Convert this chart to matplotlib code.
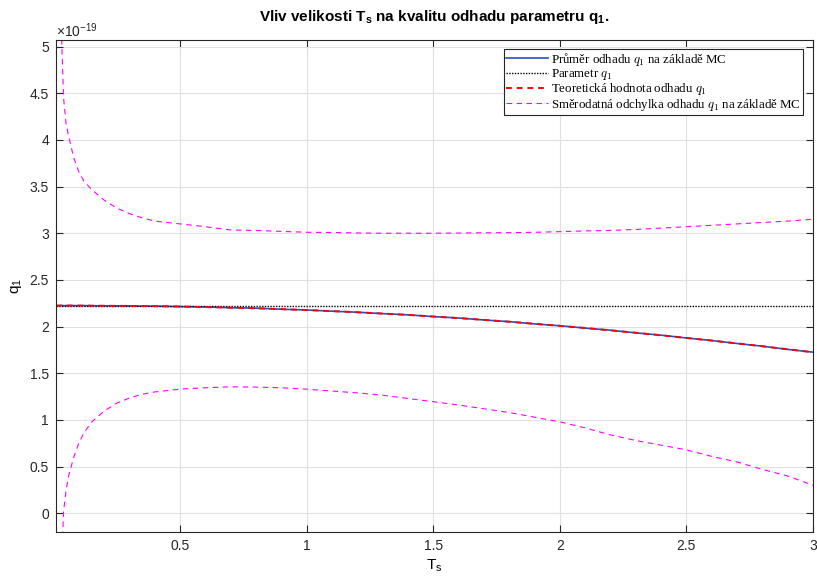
import numpy as np
import matplotlib
matplotlib.use('Agg')
import matplotlib.pyplot as plt
from matplotlib.font_manager import FontProperties

plt.rcParams['font.family'] = ['Liberation Sans', 'DejaVu Sans']
plt.rcParams['mathtext.fontset'] = 'custom'
plt.rcParams['mathtext.rm'] = 'Liberation Sans'
plt.rcParams['mathtext.it'] = 'Liberation Sans'
plt.rcParams['mathtext.bf'] = 'Liberation Sans:bold'

# data (values in units of 1e-19)
Ts = [0.01, 0.02, 0.03, 0.04, 0.05, 0.06, 0.08, 0.1, 0.12, 0.15, 0.2, 0.25, 0.3, 0.35,
      0.4, 0.5, 0.6, 0.7, 0.8, 0.9, 1.0, 1.1, 1.2, 1.3, 1.4, 1.5, 1.6, 1.7, 1.8, 1.9,
      2.0, 2.1, 2.2, 2.3, 2.4, 2.5, 2.6, 2.7, 2.8, 2.9, 3.0]
q1_true = 2.225
q1_mc = [2.226, 2.224, 2.226, 2.225, 2.224, 2.226, 2.225, 2.224, 2.225, 2.223, 2.223, 2.222,
         2.221, 2.219, 2.219, 2.214, 2.210, 2.202, 2.197, 2.186, 2.178, 2.165, 2.154, 2.139,
         2.126, 2.107, 2.092, 2.071, 2.053, 2.029, 2.009, 1.984, 1.961, 1.933, 1.908, 1.878,
         1.851, 1.819, 1.790, 1.756, 1.726]
q1_teor = [2.225, 2.225, 2.225, 2.225, 2.225, 2.225, 2.225, 2.225, 2.225, 2.224, 2.223, 2.222,
           2.221, 2.220, 2.219, 2.215, 2.210, 2.203, 2.196, 2.187, 2.177, 2.166, 2.153, 2.140,
           2.125, 2.108, 2.091, 2.072, 2.052, 2.030, 2.008, 1.985, 1.960, 1.934, 1.907, 1.879,
           1.850, 1.820, 1.789, 1.757, 1.725]
std_upper = [9.0, 6.3, 5.3, 4.45, 4.17, 4.04, 3.81, 3.66, 3.56, 3.47, 3.355, 3.27, 3.21, 3.165,
             3.13, 3.10, 3.07, 3.035, 3.03, 3.02, 3.01, 3.008, 3.003, 3.0, 3.0, 3.0, 3.002,
             3.005, 3.006, 3.01, 3.017, 3.025, 3.03, 3.04, 3.055, 3.07, 3.085, 3.10, 3.115,
             3.13, 3.15]
std_lower = [-4.5, -1.8, -0.7, 0.02, 0.25, 0.40, 0.60, 0.75, 0.86, 0.975, 1.095, 1.18, 1.235,
             1.275, 1.30, 1.33, 1.345, 1.355, 1.352, 1.345, 1.33, 1.31, 1.29, 1.265, 1.23,
             1.196, 1.16, 1.12, 1.08, 1.03, 0.98, 0.915, 0.84, 0.78, 0.73, 0.68, 0.61, 0.55,
             0.47, 0.40, 0.30]
xticks = [0.5, 1, 1.5, 2, 2.5, 3]
yticks = [0, 0.5, 1, 1.5, 2, 2.5, 3, 3.5, 4, 4.5, 5]

fig = plt.figure(figsize=(8.17, 5.76), dpi=100)
ax = fig.add_axes([0.0685, 0.0764, 0.9266, 0.8542])

ax.plot(Ts, q1_mc, color=(0.15, 0.3, 0.8), lw=1.2,
        label=r'Průměr odhadu $q_1$ na základě MC')
ax.plot(Ts, [q1_true] * len(Ts), 'k', ls=(0, (1, 1)), lw=1.0,
        label=r'Parametr $q_1$')
ax.plot(Ts, q1_teor, 'r', ls=(0, (3, 2.5)), lw=1.4,
        label=r'Teoretická hodnota odhadu $q_1$')
ax.plot(Ts, std_upper, color='#ff00ff', ls=(0, (5, 4)), lw=0.8,
        label=r'Směrodatná odchylka odhadu $q_1$ na základě MC')
ax.plot(Ts, std_lower, color='#ff00ff', ls=(0, (5, 4)), lw=0.8)

ax.set_xlim(0.01, 3)
ax.set_ylim(-0.2, 5.07)
ax.set_xticks(xticks)
ax.set_xticklabels(['%g' % t for t in xticks])
ax.set_yticks(yticks)
ax.set_yticklabels(['%g' % t for t in yticks])
# exponent label like MATLAB
ax.text(0.0, 1.006, r'$\times10^{-19}$', transform=ax.transAxes, fontsize=10,
        color='0.15', ha='left', va='baseline')

ax.grid(True, color='0.88', lw=0.8)
ax.set_axisbelow(True)
ax.tick_params(direction='in', length=5, width=0.8, top=True, right=True,
               labelsize=10, colors='0.15', pad=5)
for s in ax.spines.values():
    s.set_color('0.15')
    s.set_linewidth(0.8)

ax.set_xlabel(r'$\mathrm{T_s}$', fontsize=11, labelpad=3)
ax.set_ylabel(r'$\mathrm{q_1}$', fontsize=11, labelpad=4)
ax.set_title(r'Vliv velikosti $\mathbf{T_s}$ na kvalitu odhadu parametru $\mathbf{q_1}$.',
             fontsize=11, fontweight='bold', pad=14)

lp = FontProperties(family='Liberation Serif', size=9.3, math_fontfamily='cm')
leg = ax.legend(loc='upper right', bbox_to_anchor=(0.987, 0.982), borderaxespad=0,
                prop=lp, fancybox=False, framealpha=1, edgecolor='0.15',
                handlelength=3.2, handletextpad=0.3, labelspacing=-0.05,
                borderpad=0.15)
leg.get_frame().set_linewidth(0.8)

fig.savefig('out.png', dpi=100)
